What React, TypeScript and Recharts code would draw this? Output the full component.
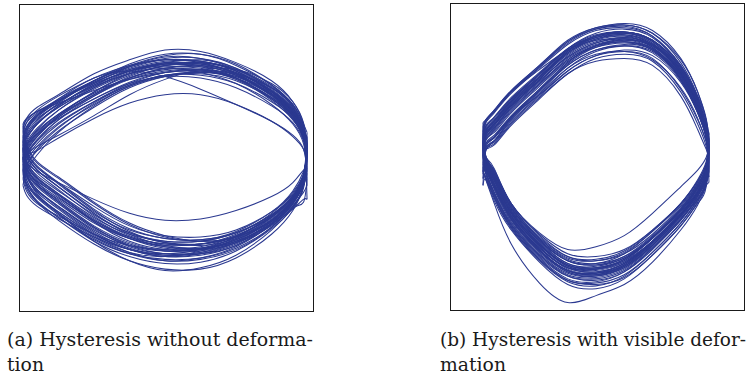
import React from "react";
import { LineChart, Line, XAxis, YAxis } from "recharts";

// Shared sample positions along the excitation axis (left tip = -1, right tip = +1)
const GRID = [-1.0, -0.975, -0.9, -0.75, -0.5, -0.25, 0, 0.25, 0.5, 0.75, 0.9, 0.975, 1.0];

// (a) Hysteresis without deformation: upper and lower branch of each cycle
const UPPER_A = [
  [0.0, 0.08, 0.18, 0.31, 0.46, 0.57, 0.63, 0.63, 0.56, 0.41, 0.27, 0.14, 0.02],
  [0.05, 0.14, 0.24, 0.37, 0.52, 0.62, 0.67, 0.66, 0.59, 0.44, 0.3, 0.16, 0.06],
  [-0.05, 0.03, 0.13, 0.27, 0.42, 0.54, 0.61, 0.62, 0.57, 0.43, 0.3, 0.17, 0.08],
  [0.1, 0.2, 0.29, 0.4, 0.54, 0.64, 0.7, 0.69, 0.62, 0.46, 0.31, 0.15, 0.0],
  [-0.1, -0.02, 0.08, 0.22, 0.38, 0.51, 0.58, 0.61, 0.58, 0.46, 0.33, 0.2, 0.12],
  [0.02, 0.11, 0.21, 0.34, 0.49, 0.6, 0.65, 0.64, 0.57, 0.42, 0.28, 0.13, -0.05],
  [0.08, 0.17, 0.27, 0.38, 0.51, 0.6, 0.64, 0.61, 0.53, 0.38, 0.24, 0.1, -0.08],
  [-0.02, 0.07, 0.17, 0.3, 0.45, 0.57, 0.64, 0.66, 0.61, 0.48, 0.34, 0.19, 0.04],
  [0.2, 0.28, 0.36, 0.45, 0.6, 0.7, 0.77, 0.76, 0.68, 0.55, 0.4, 0.24, 0.05],
  [0.0, 0.02, 0.05, 0.14, 0.28, 0.39, 0.45, 0.45, 0.38, 0.26, 0.15, 0.06, -0.02],
  [0.05, 0.18, 0.3, 0.42, 0.57, 0.62, 0.58, 0.49, 0.38, 0.26, 0.16, 0.06, -0.1],
  [-0.08, 0.02, 0.12, 0.25, 0.4, 0.52, 0.59, 0.6, 0.55, 0.42, 0.29, 0.15, 0.0],
  [0.12, 0.22, 0.31, 0.41, 0.54, 0.63, 0.67, 0.65, 0.57, 0.42, 0.28, 0.14, 0.1],
  [-0.04, 0.05, 0.15, 0.29, 0.45, 0.58, 0.66, 0.68, 0.63, 0.5, 0.36, 0.2, 0.15],
  [0.22, 0.27, 0.33, 0.41, 0.53, 0.62, 0.68, 0.7, 0.64, 0.51, 0.38, 0.23, 0.08],
  [-0.12, -0.05, 0.05, 0.19, 0.36, 0.5, 0.58, 0.62, 0.6, 0.5, 0.38, 0.24, 0.18],
  [0.06, 0.14, 0.24, 0.36, 0.51, 0.63, 0.69, 0.69, 0.62, 0.47, 0.32, 0.17, 0.03],
  [0.0, 0.12, 0.24, 0.37, 0.53, 0.65, 0.72, 0.71, 0.63, 0.48, 0.33, 0.18, -0.12],
  [-0.15, -0.06, 0.06, 0.21, 0.39, 0.52, 0.59, 0.59, 0.53, 0.4, 0.28, 0.16, 0.05],
  [0.24, 0.28, 0.33, 0.39, 0.48, 0.56, 0.61, 0.62, 0.56, 0.43, 0.3, 0.15, -0.2],
  [0.1, 0.19, 0.28, 0.38, 0.52, 0.62, 0.66, 0.66, 0.59, 0.45, 0.31, 0.18, -0.3],
  [-0.2, -0.1, 0.02, 0.18, 0.37, 0.51, 0.59, 0.61, 0.57, 0.45, 0.33, 0.19, 0.12],
  [0.15, 0.22, 0.3, 0.4, 0.55, 0.66, 0.73, 0.74, 0.66, 0.52, 0.38, 0.22, 0.02],
  [0.03, 0.09, 0.17, 0.28, 0.42, 0.53, 0.58, 0.57, 0.5, 0.37, 0.25, 0.12, 0.0],
  [-0.06, 0.04, 0.15, 0.3, 0.47, 0.6, 0.67, 0.68, 0.62, 0.47, 0.32, 0.16, -0.15],
  [0.18, 0.25, 0.32, 0.42, 0.55, 0.65, 0.7, 0.68, 0.6, 0.45, 0.3, 0.14, 0.05],
  [-0.02, 0.06, 0.16, 0.29, 0.44, 0.56, 0.62, 0.63, 0.58, 0.45, 0.31, 0.17, 0.1],
  [0.0, 0.03, 0.08, 0.16, 0.3, 0.45, 0.56, 0.63, 0.63, 0.53, 0.4, 0.25, 0.08],
  [0.08, 0.16, 0.25, 0.36, 0.5, 0.61, 0.67, 0.67, 0.6, 0.45, 0.3, 0.15, -0.02],
  [-0.08, 0.0, 0.1, 0.24, 0.4, 0.53, 0.61, 0.63, 0.59, 0.47, 0.34, 0.2, 0.1],
  [0.12, 0.21, 0.3, 0.41, 0.55, 0.65, 0.71, 0.71, 0.64, 0.49, 0.35, 0.19, 0.06],
  [0.04, 0.1, 0.19, 0.31, 0.47, 0.59, 0.66, 0.67, 0.61, 0.47, 0.33, 0.18, 0.0],
  [-0.02, 0.09, 0.2, 0.34, 0.5, 0.62, 0.68, 0.67, 0.6, 0.45, 0.31, 0.16, 0.04],
  [0.15, 0.25, 0.34, 0.44, 0.57, 0.66, 0.7, 0.69, 0.63, 0.5, 0.36, 0.2, 0.14],
  [-0.1, 0.01, 0.12, 0.27, 0.44, 0.57, 0.64, 0.65, 0.6, 0.48, 0.35, 0.21, -0.06],
  [0.06, 0.15, 0.26, 0.39, 0.55, 0.67, 0.74, 0.74, 0.67, 0.52, 0.37, 0.21, 0.08],
];
const LOWER_A = [
  [0.0, -0.1, -0.2, -0.3, -0.47, -0.58, -0.63, -0.62, -0.55, -0.4, -0.25, -0.12, 0.02],
  [0.05, -0.05, -0.15, -0.26, -0.43, -0.55, -0.6, -0.6, -0.54, -0.41, -0.27, -0.13, 0.06],
  [-0.05, -0.14, -0.24, -0.35, -0.52, -0.63, -0.67, -0.65, -0.57, -0.42, -0.28, -0.14, 0.08],
  [0.1, 0.01, -0.09, -0.21, -0.39, -0.52, -0.58, -0.59, -0.53, -0.39, -0.24, -0.1, 0.0],
  [-0.1, -0.19, -0.28, -0.39, -0.55, -0.66, -0.71, -0.69, -0.61, -0.46, -0.31, -0.16, 0.12],
  [0.02, -0.08, -0.18, -0.29, -0.45, -0.57, -0.62, -0.62, -0.56, -0.43, -0.29, -0.15, -0.05],
  [0.08, -0.03, -0.13, -0.24, -0.41, -0.54, -0.6, -0.6, -0.54, -0.41, -0.28, -0.15, -0.08],
  [-0.02, -0.12, -0.23, -0.35, -0.53, -0.65, -0.7, -0.69, -0.62, -0.47, -0.32, -0.17, 0.04],
  [0.2, 0.05, -0.07, -0.18, -0.35, -0.49, -0.56, -0.57, -0.52, -0.39, -0.26, -0.12, 0.05],
  [0.0, -0.12, -0.23, -0.36, -0.54, -0.66, -0.71, -0.7, -0.63, -0.48, -0.33, -0.17, -0.02],
  [0.05, -0.03, -0.1, -0.18, -0.3, -0.4, -0.45, -0.44, -0.38, -0.28, -0.18, -0.09, -0.1],
  [-0.08, -0.2, -0.32, -0.45, -0.62, -0.74, -0.8, -0.8, -0.72, -0.55, -0.38, -0.2, 0.0],
  [0.12, 0.02, -0.09, -0.21, -0.4, -0.55, -0.63, -0.65, -0.6, -0.47, -0.33, -0.18, 0.1],
  [-0.04, -0.16, -0.28, -0.4, -0.57, -0.68, -0.71, -0.67, -0.58, -0.43, -0.28, -0.13, 0.15],
  [0.22, 0.08, -0.04, -0.15, -0.33, -0.48, -0.57, -0.6, -0.57, -0.45, -0.32, -0.18, 0.08],
  [-0.12, -0.22, -0.32, -0.43, -0.59, -0.69, -0.73, -0.72, -0.65, -0.5, -0.35, -0.2, 0.18],
  [0.06, -0.05, -0.16, -0.28, -0.46, -0.58, -0.64, -0.65, -0.59, -0.45, -0.3, -0.15, 0.03],
  [0.0, -0.09, -0.2, -0.32, -0.5, -0.62, -0.67, -0.66, -0.59, -0.45, -0.32, -0.2, -0.12],
  [-0.15, -0.24, -0.33, -0.42, -0.55, -0.63, -0.66, -0.64, -0.56, -0.42, -0.28, -0.13, 0.05],
  [0.24, 0.1, -0.03, -0.14, -0.32, -0.47, -0.56, -0.6, -0.57, -0.46, -0.34, -0.25, -0.2],
  [0.1, -0.02, -0.14, -0.26, -0.46, -0.6, -0.66, -0.66, -0.6, -0.48, -0.37, -0.3, -0.3],
  [-0.2, -0.27, -0.35, -0.44, -0.57, -0.66, -0.69, -0.66, -0.57, -0.42, -0.28, -0.14, 0.12],
  [0.15, 0.04, -0.07, -0.19, -0.38, -0.53, -0.61, -0.63, -0.58, -0.45, -0.3, -0.15, 0.02],
  [0.03, -0.12, -0.26, -0.4, -0.6, -0.74, -0.81, -0.79, -0.7, -0.52, -0.36, -0.22, 0.0],
  [-0.06, -0.16, -0.27, -0.39, -0.56, -0.68, -0.74, -0.73, -0.66, -0.5, -0.36, -0.32, -0.15],
  [0.18, 0.06, -0.06, -0.18, -0.37, -0.51, -0.58, -0.59, -0.54, -0.42, -0.29, -0.15, 0.05],
  [-0.02, -0.11, -0.21, -0.33, -0.51, -0.64, -0.69, -0.68, -0.61, -0.46, -0.31, -0.16, 0.1],
  [0.0, -0.08, -0.17, -0.27, -0.44, -0.57, -0.64, -0.66, -0.61, -0.49, -0.35, -0.2, 0.08],
  [0.08, -0.04, -0.15, -0.27, -0.45, -0.58, -0.65, -0.65, -0.59, -0.45, -0.3, -0.15, -0.02],
  [-0.08, -0.18, -0.29, -0.41, -0.58, -0.69, -0.74, -0.72, -0.64, -0.48, -0.33, -0.17, 0.1],
  [0.12, 0.0, -0.11, -0.23, -0.42, -0.56, -0.62, -0.62, -0.56, -0.42, -0.28, -0.14, 0.06],
  [0.04, -0.07, -0.19, -0.32, -0.5, -0.63, -0.69, -0.69, -0.63, -0.48, -0.33, -0.17, 0.0],
  [-0.02, -0.13, -0.25, -0.37, -0.55, -0.66, -0.7, -0.68, -0.6, -0.45, -0.3, -0.15, 0.04],
  [0.15, 0.03, -0.09, -0.21, -0.4, -0.54, -0.61, -0.62, -0.57, -0.44, -0.3, -0.16, 0.14],
  [-0.1, -0.2, -0.31, -0.43, -0.6, -0.71, -0.76, -0.75, -0.67, -0.51, -0.36, -0.21, -0.06],
  [0.06, -0.06, -0.18, -0.31, -0.49, -0.61, -0.67, -0.67, -0.61, -0.47, -0.32, -0.16, 0.08],
];

// (b) Hysteresis with visible deformation
const UPPER_B = [
  [0.05, 0.15, 0.21, 0.35, 0.53, 0.71, 0.81, 0.84, 0.78, 0.56, 0.32, 0.15, 0.02],
  [0.1, 0.2, 0.26, 0.4, 0.58, 0.76, 0.86, 0.89, 0.83, 0.61, 0.37, 0.19, 0.06],
  [0.0, 0.1, 0.15, 0.29, 0.45, 0.62, 0.73, 0.76, 0.71, 0.49, 0.27, 0.11, -0.03],
  [0.15, 0.26, 0.33, 0.47, 0.65, 0.83, 0.93, 0.95, 0.89, 0.68, 0.44, 0.25, 0.1],
  [-0.05, 0.06, 0.1, 0.24, 0.43, 0.6, 0.71, 0.74, 0.69, 0.47, 0.24, 0.08, -0.06],
  [0.08, 0.18, 0.24, 0.38, 0.56, 0.74, 0.84, 0.87, 0.81, 0.6, 0.36, 0.17, 0.04],
  [0.02, 0.06, 0.09, 0.23, 0.42, 0.6, 0.69, 0.71, 0.66, 0.44, 0.2, 0.06, 0.0],
  [-0.1, 0.07, 0.12, 0.26, 0.45, 0.64, 0.76, 0.8, 0.76, 0.56, 0.33, 0.14, -0.1],
  [0.22, 0.27, 0.34, 0.48, 0.66, 0.84, 0.93, 0.96, 0.91, 0.71, 0.47, 0.28, 0.12],
  [0.06, 0.14, 0.2, 0.34, 0.53, 0.7, 0.8, 0.83, 0.77, 0.57, 0.35, 0.18, 0.08],
  [0.12, 0.21, 0.27, 0.41, 0.59, 0.77, 0.87, 0.89, 0.82, 0.6, 0.36, 0.16, 0.0],
  [-0.15, 0.05, 0.12, 0.28, 0.48, 0.67, 0.79, 0.83, 0.78, 0.59, 0.37, 0.18, 0.08],
  [0.03, 0.17, 0.23, 0.37, 0.55, 0.72, 0.82, 0.85, 0.79, 0.58, 0.34, 0.16, -0.08],
  [0.18, 0.25, 0.32, 0.46, 0.64, 0.81, 0.91, 0.93, 0.87, 0.66, 0.43, 0.23, 0.09],
  [-0.08, 0.1, 0.16, 0.3, 0.49, 0.68, 0.8, 0.84, 0.8, 0.61, 0.39, 0.21, 0.14],
  [0.1, 0.19, 0.25, 0.39, 0.57, 0.75, 0.85, 0.87, 0.79, 0.57, 0.33, 0.14, -0.14],
  [0.0, 0.13, 0.18, 0.32, 0.51, 0.69, 0.79, 0.82, 0.77, 0.56, 0.33, 0.16, 0.05],
  [0.25, 0.27, 0.33, 0.47, 0.65, 0.82, 0.92, 0.95, 0.89, 0.7, 0.47, 0.27, 0.16],
  [-0.2, 0.05, 0.11, 0.25, 0.44, 0.62, 0.73, 0.77, 0.73, 0.54, 0.32, 0.15, 0.0],
  [0.07, 0.19, 0.26, 0.4, 0.58, 0.75, 0.85, 0.88, 0.81, 0.6, 0.36, 0.17, 0.03],
  [0.13, 0.22, 0.28, 0.42, 0.6, 0.78, 0.88, 0.9, 0.84, 0.64, 0.42, 0.23, 0.18],
  [-0.02, 0.12, 0.19, 0.33, 0.52, 0.7, 0.8, 0.83, 0.78, 0.59, 0.36, 0.18, -0.18],
  [0.04, 0.16, 0.22, 0.36, 0.54, 0.73, 0.83, 0.86, 0.8, 0.59, 0.35, 0.16, 0.07],
  [0.09, 0.25, 0.33, 0.47, 0.63, 0.77, 0.84, 0.85, 0.8, 0.62, 0.4, 0.21, 0.02],
  [0.16, 0.22, 0.29, 0.43, 0.61, 0.78, 0.87, 0.9, 0.84, 0.65, 0.44, 0.26, -0.05],
  [-0.12, 0.07, 0.12, 0.27, 0.46, 0.64, 0.74, 0.76, 0.7, 0.5, 0.28, 0.12, 0.1],
  [0.01, 0.14, 0.21, 0.36, 0.56, 0.75, 0.86, 0.89, 0.83, 0.62, 0.38, 0.19, -0.02],
  [0.11, 0.18, 0.24, 0.37, 0.55, 0.72, 0.82, 0.86, 0.81, 0.63, 0.41, 0.22, 0.12],
  [0.06, 0.16, 0.23, 0.38, 0.57, 0.76, 0.87, 0.9, 0.84, 0.63, 0.39, 0.19, 0.05],
  [0.14, 0.23, 0.29, 0.42, 0.6, 0.77, 0.86, 0.88, 0.82, 0.62, 0.39, 0.2, 0.11],
  [-0.04, 0.09, 0.14, 0.28, 0.47, 0.66, 0.77, 0.81, 0.77, 0.58, 0.35, 0.17, -0.04],
  [0.08, 0.19, 0.26, 0.41, 0.6, 0.78, 0.89, 0.92, 0.86, 0.65, 0.41, 0.22, 0.07],
  [0.02, 0.1, 0.15, 0.29, 0.48, 0.66, 0.77, 0.8, 0.75, 0.55, 0.32, 0.14, 0.01],
  [0.19, 0.27, 0.34, 0.48, 0.66, 0.83, 0.92, 0.94, 0.87, 0.66, 0.42, 0.22, 0.13],
  [-0.1, 0.08, 0.14, 0.29, 0.49, 0.68, 0.8, 0.85, 0.81, 0.62, 0.4, 0.21, 0.06],
  [0.05, 0.17, 0.24, 0.39, 0.58, 0.76, 0.87, 0.9, 0.84, 0.64, 0.4, 0.2, -0.1],
];
const LOWER_B = [
  [0.05, -0.05, -0.19, -0.42, -0.65, -0.79, -0.8, -0.73, -0.57, -0.37, -0.21, -0.09, 0.02],
  [0.1, -0.01, -0.13, -0.37, -0.6, -0.74, -0.76, -0.69, -0.53, -0.33, -0.17, -0.05, 0.06],
  [0.0, -0.08, -0.23, -0.46, -0.69, -0.83, -0.85, -0.78, -0.61, -0.4, -0.24, -0.12, -0.03],
  [0.15, 0.0, -0.11, -0.34, -0.57, -0.71, -0.73, -0.67, -0.52, -0.33, -0.17, -0.05, 0.1],
  [-0.05, -0.12, -0.27, -0.49, -0.72, -0.87, -0.89, -0.82, -0.65, -0.44, -0.28, -0.16, -0.06],
  [0.08, -0.04, -0.16, -0.39, -0.62, -0.77, -0.79, -0.73, -0.58, -0.38, -0.22, -0.09, 0.04],
  [0.02, -0.07, -0.21, -0.44, -0.67, -0.81, -0.83, -0.76, -0.6, -0.39, -0.23, -0.11, 0.0],
  [-0.1, -0.16, -0.33, -0.62, -0.9, -1.04, -0.99, -0.91, -0.75, -0.52, -0.34, -0.2, -0.1],
  [0.22, 0.0, -0.09, -0.33, -0.55, -0.69, -0.71, -0.66, -0.52, -0.33, -0.16, -0.03, 0.12],
  [0.06, 0.0, -0.08, -0.33, -0.54, -0.66, -0.64, -0.56, -0.4, -0.21, -0.09, 0.0, 0.08],
  [0.12, -0.02, -0.14, -0.36, -0.6, -0.76, -0.79, -0.74, -0.6, -0.41, -0.25, -0.12, 0.0],
  [-0.15, -0.15, -0.29, -0.51, -0.74, -0.89, -0.92, -0.85, -0.68, -0.47, -0.3, -0.16, 0.08],
  [0.03, -0.06, -0.19, -0.42, -0.65, -0.79, -0.82, -0.76, -0.61, -0.41, -0.26, -0.16, -0.08],
  [0.18, 0.01, -0.1, -0.34, -0.58, -0.73, -0.76, -0.71, -0.57, -0.37, -0.2, -0.07, 0.09],
  [-0.08, -0.11, -0.26, -0.48, -0.71, -0.85, -0.87, -0.81, -0.65, -0.45, -0.3, -0.19, 0.14],
  [0.1, -0.03, -0.15, -0.38, -0.61, -0.76, -0.78, -0.72, -0.57, -0.38, -0.25, -0.15, -0.14],
  [0.0, -0.09, -0.22, -0.45, -0.68, -0.82, -0.84, -0.77, -0.61, -0.41, -0.25, -0.12, 0.05],
  [0.25, 0.0, -0.12, -0.36, -0.59, -0.74, -0.77, -0.71, -0.56, -0.36, -0.19, -0.06, 0.16],
  [-0.2, -0.16, -0.31, -0.52, -0.75, -0.91, -0.94, -0.87, -0.7, -0.49, -0.32, -0.18, 0.0],
  [0.07, -0.05, -0.17, -0.4, -0.63, -0.77, -0.79, -0.73, -0.58, -0.38, -0.22, -0.09, 0.03],
  [0.13, -0.03, -0.16, -0.4, -0.64, -0.8, -0.83, -0.78, -0.63, -0.43, -0.27, -0.12, 0.18],
  [-0.02, -0.1, -0.25, -0.48, -0.7, -0.84, -0.86, -0.8, -0.64, -0.44, -0.29, -0.2, -0.18],
  [0.04, -0.07, -0.2, -0.43, -0.66, -0.81, -0.83, -0.77, -0.61, -0.41, -0.25, -0.11, 0.07],
  [0.09, -0.02, -0.12, -0.35, -0.58, -0.72, -0.74, -0.68, -0.53, -0.34, -0.18, -0.05, 0.02],
  [0.16, -0.01, -0.14, -0.38, -0.62, -0.78, -0.81, -0.75, -0.6, -0.41, -0.27, -0.17, -0.05],
  [-0.12, -0.14, -0.29, -0.5, -0.73, -0.88, -0.91, -0.86, -0.7, -0.49, -0.33, -0.21, 0.1],
  [0.01, -0.08, -0.21, -0.44, -0.67, -0.81, -0.84, -0.79, -0.63, -0.42, -0.26, -0.13, -0.02],
  [0.11, -0.04, -0.16, -0.4, -0.63, -0.78, -0.8, -0.74, -0.58, -0.38, -0.21, -0.08, 0.12],
  [0.06, -0.05, -0.18, -0.41, -0.64, -0.79, -0.82, -0.76, -0.6, -0.4, -0.24, -0.11, 0.05],
  [0.14, -0.01, -0.13, -0.36, -0.59, -0.74, -0.77, -0.72, -0.57, -0.37, -0.21, -0.08, 0.11],
  [-0.04, -0.11, -0.25, -0.47, -0.7, -0.85, -0.88, -0.82, -0.66, -0.45, -0.28, -0.14, -0.04],
  [0.08, -0.04, -0.16, -0.39, -0.62, -0.77, -0.8, -0.75, -0.6, -0.4, -0.24, -0.1, 0.07],
  [0.02, -0.08, -0.21, -0.44, -0.67, -0.82, -0.85, -0.79, -0.63, -0.42, -0.26, -0.12, 0.01],
  [0.19, 0.01, -0.1, -0.33, -0.56, -0.71, -0.74, -0.69, -0.55, -0.35, -0.19, -0.06, 0.13],
  [-0.1, -0.14, -0.28, -0.5, -0.73, -0.88, -0.9, -0.84, -0.68, -0.47, -0.31, -0.17, 0.06],
  [0.05, -0.06, -0.19, -0.42, -0.66, -0.81, -0.84, -0.78, -0.62, -0.42, -0.27, -0.17, -0.1],
];

const CAPTION_A = ["(a) Hysteresis without deforma-", "tion"];
const CAPTION_B = ["(b) Hysteresis with visible defor-", "mation"];

const LINE_COLOR = "#2b3990";

type Pt = { x: number; y: number };
const toPoints = (ys: number[]): Pt[] => ys.map((y, i) => ({ x: GRID[i], y }));

function LoopPanel({
  upper,
  lower,
  xDomain,
  yDomain,
  left,
  top,
}: {
  upper: number[][];
  lower: number[][];
  xDomain: [number, number];
  yDomain: [number, number];
  left: number;
  top: number;
}) {
  const arcs: Pt[][] = [];
  upper.forEach((u, i) => {
    arcs.push(toPoints(u));
    arcs.push(toPoints(lower[i]));
  });
  return (
    <div
      style={{
        position: "absolute",
        left,
        top,
        width: 295,
        height: 308,
        boxSizing: "border-box",
        border: "1px solid #1a1a1a",
        background: "#fff",
      }}
    >
      <LineChart width={293} height={306} margin={{ top: 0, right: 0, bottom: 0, left: 0 }}>
        <XAxis type="number" dataKey="x" domain={xDomain} hide allowDataOverflow />
        <YAxis type="number" dataKey="y" domain={yDomain} hide allowDataOverflow />
        {arcs.map((d, i) => (
          <Line
            key={i}
            data={d}
            dataKey="y"
            type="natural"
            stroke={LINE_COLOR}
            strokeWidth={1.05}
            dot={false}
            activeDot={false}
            isAnimationActive={false}
          />
        ))}
      </LineChart>
    </div>
  );
}

export default function App() {
  return (
    <div style={{ position: "absolute", left: 0, top: 0, width: 753, height: 379, background: "#fff" }}>
      <LoopPanel upper={UPPER_A} lower={LOWER_A} xDomain={[-1.021, 1.042]} yDomain={[-1.1, 1.093]} left={19} top={4} />
      <LoopPanel upper={UPPER_B} lower={LOWER_B} xDomain={[-1.283, 1.31]} yDomain={[-1.093, 1.1]} left={450} top={3} />
      <svg width={753} height={379} style={{ position: "absolute", left: 0, top: 0, pointerEvents: "none" }}>
        <g style={{ fontFamily: "DejaVu Serif", fontSize: "18.5px" }} fill="#1a1a1a">
          <text x={7} y={346} textLength={306} lengthAdjust="spacingAndGlyphs">
            {CAPTION_A[0]}
          </text>
          <text x={7} y={371} textLength={37} lengthAdjust="spacingAndGlyphs">
            {CAPTION_A[1]}
          </text>
          <text x={440} y={346} textLength={306} lengthAdjust="spacingAndGlyphs">
            {CAPTION_B[0]}
          </text>
          <text x={440} y={371} textLength={66} lengthAdjust="spacingAndGlyphs">
            {CAPTION_B[1]}
          </text>
        </g>
      </svg>
    </div>
  );
}
